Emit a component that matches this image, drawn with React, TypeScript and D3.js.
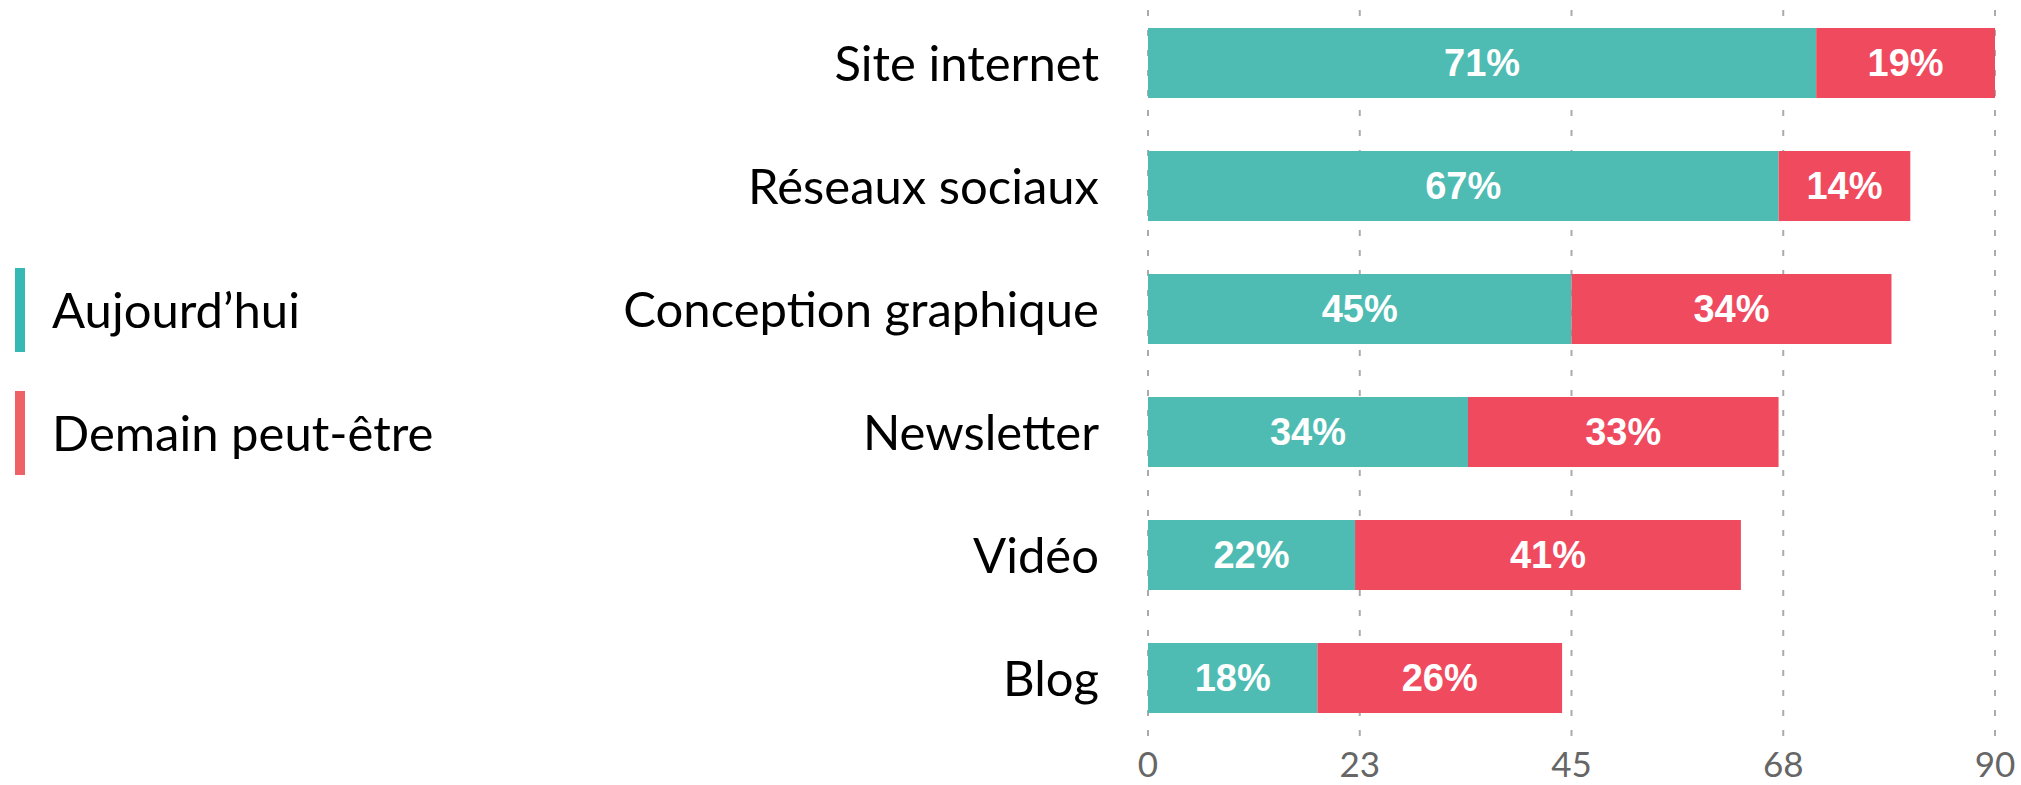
import React, { useEffect } from "react";
import * as d3 from "d3";

const categories = ["Site internet", "Réseaux sociaux", "Conception graphique", "Newsletter", "Vidéo", "Blog"];
const today = [71, 67, 45, 34, 22, 18];
const tomorrow = [19, 14, 34, 33, 41, 26];
const tickValues = [0, 22.5, 45, 67.5, 90];
const seriesNames = ["Aujourd’hui", "Demain peut-être"];

const W = 2021;
const H = 785;
const BAR_TEAL = "#4EBCB3";
const BAR_RED = "#F04A5F";
const LEG_TEAL = "#36B8B5";
const LEG_RED = "#EE6166";
const LABEL_FONT = "Lato, 'Open Sans', sans-serif";
const VALUE_FONT = "'Liberation Sans', Arial, sans-serif";

export default function App() {
  useEffect(() => {
    document.body.style.margin = "0";
  }, []);

  const x = d3.scaleLinear().domain([0, 90]).range([1148, 1995]);
  const y = d3
    .scaleBand<string>()
    .domain(categories)
    .range([1.5, 739.5])
    .paddingInner(53 / 123)
    .paddingOuter(53 / 246);
  const bw = y.bandwidth();

  return (
    <svg width={W} height={H} style={{ display: "block", position: "absolute", left: 0, top: 0 }}>
      <rect x={0} y={0} width={W} height={H} fill="#ffffff" />
      {/* gridlines */}
      {tickValues.map((t) => (
        <line
          key={"g" + t}
          x1={x(t)}
          x2={x(t)}
          y1={10}
          y2={737}
          stroke="#ABABAB"
          strokeWidth={2}
          strokeDasharray="6 14"
        />
      ))}
      {/* tick labels */}
      {tickValues.map((t) => (
        <text
          key={"t" + t}
          x={x(t)}
          y={777}
          textAnchor="middle"
          fontFamily={LABEL_FONT}
          fontSize={35}
          fill="#666666"
        >
          {d3.format(".0f")(Math.round(t))}
        </text>
      ))}
      {/* bars */}
      {categories.map((c, i) => {
        const y0 = y(c) as number;
        const cy = y0 + bw / 2;
        const a = today[i];
        const b = tomorrow[i];
        return (
          <g key={c}>
            <rect x={x(0)} y={y0} width={x(a) - x(0)} height={bw} fill={BAR_TEAL} />
            <rect x={x(a)} y={y0} width={x(a + b) - x(a)} height={bw} fill={BAR_RED} />
            <text
              x={(x(0) + x(a)) / 2}
              y={cy}
              dy="0.35em"
              textAnchor="middle"
              fontFamily={VALUE_FONT}
              fontWeight="bold"
              fontSize={38}
              fill="#ffffff"
            >
              {a}%
            </text>
            <text
              x={(x(a) + x(a + b)) / 2}
              y={cy}
              dy="0.35em"
              textAnchor="middle"
              fontFamily={VALUE_FONT}
              fontWeight="bold"
              fontSize={38}
              fill="#ffffff"
            >
              {b}%
            </text>
            <text
              x={1099}
              y={cy}
              dy="0.36em"
              textAnchor="end"
              fontFamily={LABEL_FONT}
              fontSize={49}
              fill="#000000"
            >
              {c}
            </text>
          </g>
        );
      })}
      {/* legend */}
      {seriesNames.map((s, i) => {
        const top = i === 0 ? 268 : 391;
        return (
          <g key={s}>
            <rect x={15} y={top} width={10} height={84} fill={i === 0 ? LEG_TEAL : LEG_RED} />
            <text
              x={52}
              y={top + 42}
              dy="0.36em"
              fontFamily={LABEL_FONT}
              fontSize={49}
              fill="#000000"
            >
              {s}
            </text>
          </g>
        );
      })}
    </svg>
  );
}
